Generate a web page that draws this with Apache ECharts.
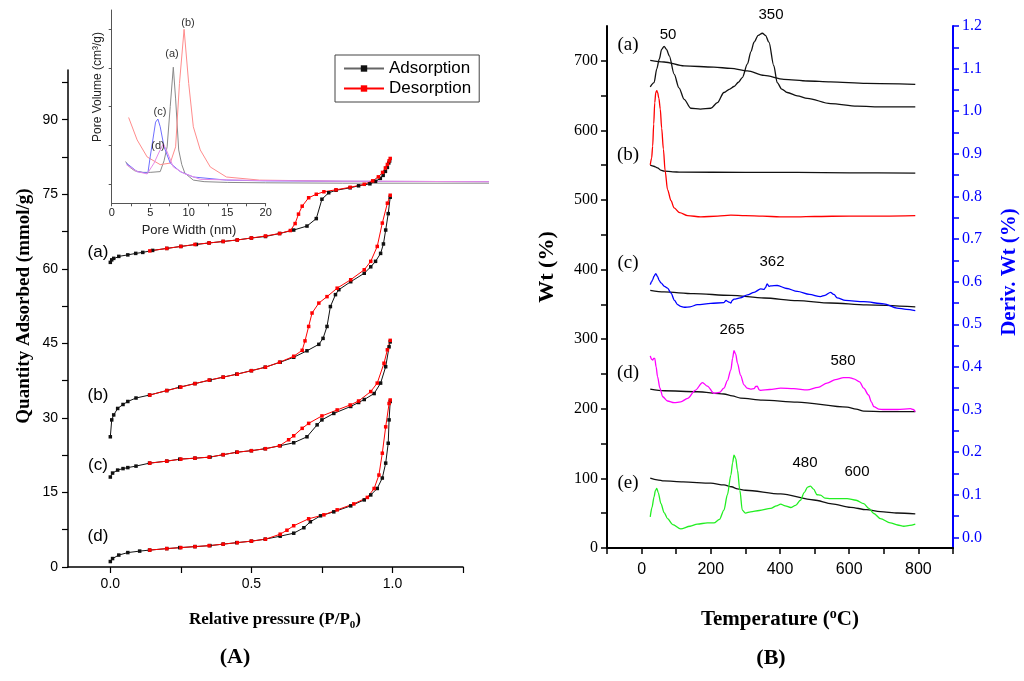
<!DOCTYPE html>
<html><head><meta charset="utf-8">
<script src="https://cdn.jsdelivr.net/npm/echarts@6/dist/echarts.min.js"></script>
<style>html,body{margin:0;padding:0;background:#fff}#c{width:1024px;height:681px}</style>
</head><body><div id="c"></div>
<script>
// ---------- Panel A: isotherms ----------
const pTickValues = [0, 0.25, 0.5, 0.75, 1.0, 1.25];
const pLabelValues = [0, 0.5, 1.0];
const qTickValues = [0,7.5,15,22.5,30,37.5,45,52.5,60,67.5,75,82.5,90,97.5];
const qLabelValues = [0,15,30,45,60,75,90];

const adsP_a = [0.0,0.005,0.012,0.03,0.062,0.09,0.115,0.15,0.2,0.25,0.305,0.35,0.4,0.45,0.5,0.55,0.6,0.65,0.697,0.73,0.75,0.774,0.8,0.85,0.88,0.92,0.94,0.957,0.967,0.975,0.982,0.987,0.99];
const adsQ_a = [61.3,61.8,62.1,62.5,62.8,63.1,63.3,63.7,64.1,64.5,64.9,65.2,65.5,65.8,66.2,66.5,67.1,67.8,68.6,70.1,74.0,75.3,75.8,76.3,76.7,77.1,77.6,78.2,78.8,79.6,80.4,81.3,81.7];
const desP_a = [0.14,0.2,0.25,0.3,0.35,0.4,0.45,0.5,0.55,0.6,0.638,0.655,0.667,0.68,0.703,0.73,0.757,0.8,0.85,0.9,0.93,0.95,0.965,0.975,0.982,0.988,0.992];
const desQ_a = [63.6,64.1,64.5,64.9,65.2,65.5,65.8,66.2,66.6,67.1,67.7,69.1,71.0,72.6,74.3,75.0,75.5,75.9,76.4,77.0,77.7,78.5,79.4,80.3,81.0,81.7,82.2];

const adsP_b = [0.0,0.005,0.012,0.026,0.045,0.062,0.091,0.139,0.2,0.246,0.3,0.353,0.4,0.448,0.5,0.549,0.602,0.65,0.697,0.739,0.754,0.768,0.78,0.798,0.81,0.852,0.9,0.923,0.94,0.958,0.968,0.976,0.985,0.992];
const adsQ_b = [26.2,29.6,30.6,31.9,32.7,33.3,34.0,34.6,35.5,36.2,36.9,37.6,38.2,38.8,39.5,40.2,41.2,42.2,43.5,44.8,46.0,48.4,52.4,54.8,55.8,57.4,59.1,60.4,61.5,63.1,65.0,67.8,71.1,74.4];
const desP_b = [0.14,0.2,0.25,0.3,0.35,0.4,0.45,0.5,0.55,0.6,0.65,0.68,0.69,0.703,0.715,0.739,0.768,0.804,0.852,0.9,0.923,0.946,0.964,0.982,0.992];
const desQ_b = [34.6,35.5,36.2,36.9,37.6,38.2,38.8,39.5,40.2,41.2,42.4,43.6,45.5,48.4,51.1,53.1,54.4,56.1,57.8,59.8,61.5,64.5,69.2,73.2,74.8];

const adsP_c = [0.0,0.008,0.026,0.045,0.062,0.091,0.139,0.2,0.246,0.3,0.353,0.4,0.448,0.5,0.549,0.602,0.65,0.697,0.733,0.75,0.792,0.852,0.88,0.9,0.935,0.958,0.976,0.988,0.992];
const adsQ_c = [18.1,18.9,19.5,19.8,20.0,20.3,20.9,21.3,21.7,21.9,22.1,22.6,23.1,23.4,23.8,24.4,25.0,26.2,28.6,29.6,30.9,32.3,33.1,33.7,34.9,37.0,40.3,44.3,45.3];
const desP_c = [0.14,0.2,0.25,0.3,0.35,0.4,0.45,0.5,0.55,0.6,0.632,0.65,0.68,0.703,0.75,0.804,0.85,0.88,0.923,0.946,0.97,0.982,0.992];
const desQ_c = [20.9,21.3,21.7,21.9,22.1,22.6,23.1,23.4,23.8,24.4,25.6,26.4,27.9,28.9,30.4,31.6,32.6,33.4,35.3,37.0,41.0,43.7,45.6];

const adsP_d = [0.0,0.008,0.03,0.062,0.104,0.139,0.2,0.246,0.3,0.353,0.4,0.448,0.5,0.549,0.602,0.65,0.686,0.709,0.745,0.792,0.852,0.9,0.923,0.946,0.964,0.976,0.985,0.988,0.992];
const adsQ_d = [1.1,1.7,2.4,2.9,3.2,3.4,3.7,3.9,4.1,4.3,4.6,4.9,5.2,5.6,6.2,6.8,7.9,9.1,10.3,11.1,12.3,13.5,14.5,15.8,17.9,20.9,24.9,29.6,33.3];
const desP_d = [0.14,0.2,0.25,0.3,0.35,0.4,0.45,0.5,0.55,0.602,0.626,0.65,0.703,0.757,0.804,0.863,0.911,0.935,0.952,0.964,0.976,0.988,0.992];
const desQ_d = [3.4,3.7,3.9,4.1,4.3,4.6,4.9,5.2,5.6,6.6,7.4,8.3,9.7,10.5,11.5,12.7,14.0,15.8,18.5,22.9,28.2,32.9,33.6];

// ---------- Inset: pore size distribution ----------
const wTickValues = [0,2.5,5,7.5,10,12.5,15,17.5,20];
const wLabelValues = [0,5,10,15,20];
const vTickValues = [0,0.5,1,1.5,2];
const psdW_a = [1.8,2.3,3,4,5,6.3,6.8,7.2,7.6,8.0,8.3,8.7,9.1,9.5,10.6,12,15,20,30,49];
const psdV_a = [0.29,0.22,0.17,0.15,0.15,0.16,0.3,0.48,1.0,1.51,1.1,0.44,0.25,0.14,0.05,0.03,0.02,0.015,0.01,0.01];
const psdW_b = [2.2,3.3,4.6,6.3,7.6,8.3,8.8,9.4,10.0,10.6,11.5,12.8,14.9,19.2,30,49];
const psdV_b = [0.86,0.57,0.35,0.25,0.27,0.48,1.3,2.0,1.3,0.74,0.44,0.22,0.09,0.05,0.035,0.03];
const psdW_c = [1.9,3.3,4.7,5.0,5.7,6.0,6.3,6.8,7.6,8.9,10.6,14.9,20,30,49];
const psdV_c = [0.27,0.16,0.14,0.35,0.80,0.84,0.74,0.48,0.27,0.16,0.09,0.05,0.04,0.035,0.03];
const psdW_d = [1.9,3.3,4.6,5.5,6.1,6.7,7.1,8.0,9.3,11.5,19,30,49];
const psdV_d = [0.25,0.16,0.13,0.27,0.40,0.52,0.44,0.22,0.14,0.06,0.045,0.035,0.03];

// ---------- Panel B: TGA / DTG ----------
const tTickValues = [-100,0,100,200,300,400,500,600,700,800,900];
const tLabelValues = [0,200,400,600,800];
const wtTickValues = [0,50,100,150,200,250,300,350,400,450,500,550,600,650,700];
const wtLabelValues = [0,100,200,300,400,500,600,700];
const dTickValues = [0,0.05,0.1,0.15,0.2,0.25,0.3,0.35,0.4,0.45,0.5,0.55,0.6,0.65,0.7,0.75,0.8,0.85,0.9,0.95,1.0,1.05,1.1,1.15,1.2];
const dLabelValues = [0,0.1,0.2,0.3,0.4,0.5,0.6,0.7,0.8,0.9,1.0,1.1,1.2];

const wtT_a = [25,65,123,209,258,306,354,411,480,546,650,791];
const wtV_a = [700.7,698.3,692.6,691,689,685.4,679,673.4,671,669.6,667.5,666.2];
const dtgT_a = [25,36,44,51,58,65,72,80,94,108,123,142,170,200,219,238,255,267,280,291,306,316,325,337,349,358,368,382,392,405,421,450,479,546,623,700,791];
const dtgV_a = [1.057,1.067,1.10,1.122,1.145,1.152,1.145,1.130,1.087,1.055,1.028,1.007,1.005,1.007,1.020,1.044,1.052,1.058,1.068,1.079,1.111,1.14,1.162,1.178,1.183,1.178,1.162,1.107,1.067,1.052,1.044,1.036,1.030,1.018,1.012,1.010,1.01];

const wtT_b = [25,35,46,55,65,90,113,300,450,600,791];
const wtV_b = [550,548.5,546.3,543,541.5,540.5,540,539.8,539.6,539,538.6];
const dtgT_b = [25,29,32,35,38,41,44,46,50,54,58,63,68,75,85,94,110,133,171,220,258,300,350,400,450,500,600,700,791];
const dtgV_b = [0.874,0.89,0.918,0.97,1.02,1.044,1.048,1.045,1.03,1.005,0.96,0.911,0.86,0.816,0.79,0.773,0.762,0.755,0.752,0.754,0.756,0.755,0.754,0.752,0.752,0.753,0.754,0.754,0.755];

const wtT_c = [25,65,150,258,354,450,546,650,791];
const wtV_c = [370.2,367.9,365.5,363,359.2,355.4,352,349.3,346.3];
const dtgT_c = [25,29,32,36,41,46,51,56,66,75,85,95,104,113,123,140,161,200,238,244,248,253,258,262,267,285,306,325,344,354,358,363,368,373,392,420,450,485,517,530,546,556,565,589,642,700,738,765,791];
const dtgV_c = [0.593,0.6,0.605,0.613,0.619,0.612,0.603,0.597,0.589,0.585,0.573,0.556,0.546,0.542,0.540,0.541,0.546,0.549,0.551,0.556,0.554,0.552,0.550,0.556,0.559,0.562,0.569,0.575,0.583,0.582,0.586,0.595,0.589,0.590,0.591,0.584,0.577,0.570,0.565,0.568,0.575,0.570,0.562,0.556,0.553,0.548,0.538,0.535,0.532];

const wtT_d = [25,65,161,238,262,286,350,450,594,620,642,700,791];
const wtV_d = [228.3,225.9,224.5,221.3,218.5,215.4,212.5,209.6,202.4,199.5,196.6,196,196];
const dtgT_d = [25,29,32,35,38,42,46,53,61,75,94,113,133,155,176,190,209,225,238,248,258,263,267,272,277,286,296,305,315,325,330,334,340,344,370,402,440,479,510,536,560,584,600,613,630,642,656,664,671,685,700,740,777,785,791];
const dtgV_d = [0.426,0.418,0.416,0.42,0.42,0.40,0.377,0.35,0.330,0.320,0.316,0.318,0.326,0.345,0.363,0.355,0.338,0.340,0.350,0.368,0.393,0.42,0.438,0.43,0.409,0.38,0.358,0.350,0.348,0.349,0.354,0.355,0.346,0.345,0.347,0.350,0.349,0.346,0.352,0.362,0.370,0.375,0.375,0.372,0.365,0.35,0.334,0.318,0.307,0.301,0.300,0.300,0.302,0.300,0.295];

const wtT_e = [25,45,65,120,200,238,260,277,300,402,498,550,604,650,690,740,791];
const wtV_e = [100.3,98,96.4,95,93.1,90.6,88,84.9,83,77.7,69,63.5,58.5,55,52.3,50.3,48.9];
const dtgT_e = [25,30,36,40,44,48,56,65,75,90,113,140,161,190,209,225,238,248,258,263,267,272,277,284,291,300,315,340,373,390,402,415,431,445,459,470,480,488,497,507,517,530,546,594,620,642,657,671,690,719,740,758,775,791];
const dtgV_e = [0.048,0.07,0.095,0.11,0.115,0.105,0.079,0.058,0.044,0.03,0.020,0.026,0.031,0.034,0.034,0.042,0.064,0.10,0.146,0.175,0.193,0.185,0.158,0.11,0.064,0.057,0.060,0.063,0.068,0.074,0.078,0.074,0.070,0.075,0.087,0.105,0.118,0.120,0.113,0.10,0.099,0.092,0.091,0.091,0.087,0.079,0.068,0.056,0.044,0.034,0.029,0.026,0.028,0.031];

// ---------- build ----------
const zip = (xs, ys) => xs.map((x, i) => [x, ys[i]]);
const SANS = 'Liberation Sans', SERIF = 'Liberation Serif';

// inset geometry: visible axis 0..20 nm, curves continue to 49 nm on a wider hidden grid with the same scale
const INSET_LEFT = 111.7, INSET_W20 = 154, INSET_TOP = 10, INSET_H = 193.3, PSD_MAX = 49;

function iso(name, xs, ys, color) {
  return { name, type: 'line', xAxisIndex: 0, yAxisIndex: 0, data: zip(xs, ys),
    symbol: 'rect', symbolSize: 3.5, showAllSymbol: true,
    itemStyle: { color }, lineStyle: { color, width: 1 }, z: 3 };
}
function psd(name, xs, ys, color) {
  return { name, type: 'line', xAxisIndex: 3, yAxisIndex: 4, data: zip(xs, ys),
    symbol: 'none', clip: false, lineStyle: { color, width: 1 }, z: 2 };
}
function tg(name, xs, ys, color, yi) {
  return { name, type: 'line', xAxisIndex: 2, yAxisIndex: yi, data: zip(xs, ys),
    symbol: 'none', smooth: 0.3, smoothMonotone: 'x', lineStyle: { color, width: 1.3 }, z: 2 };
}
function txt(text, x, y, size, opts) {
  opts = opts || {};
  return { type: 'text', x, y, rotation: opts.rot || 0, z: 10,
    style: { text, fontSize: size, fontFamily: opts.family || SANS, fontWeight: opts.bold ? 'bold' : 'normal',
      fill: opts.color || '#000', align: 'center', verticalAlign: 'middle',
      textAlign: 'center', textVerticalAlign: 'middle', rich: opts.rich } };
}

const chart = echarts.init(document.getElementById('c'), null, { renderer: 'canvas' });
const axisBlack = (w) => ({ show: true, onZero: false, lineStyle: { color: '#000', width: w } });
const hiddenAxis = { axisLine: { show: false }, axisTick: { show: false }, axisLabel: { show: false }, splitLine: { show: false } };

const option = {
  animation: false,
  backgroundColor: '#fff',
  grid: [
    { left: 68, top: 70, width: 395, height: 497 },
    { left: INSET_LEFT, top: INSET_TOP, width: INSET_W20, height: INSET_H },
    { left: 607, top: 26, width: 346, height: 522 },
    { left: INSET_LEFT, top: INSET_TOP, width: INSET_W20 * PSD_MAX / 20, height: INSET_H }
  ],
  legend: {
    data: [{ name: 'Adsorption', lineStyle: { color: '#666' } }, 'Desorption'], left: 335, top: 55, orient: 'vertical',
    itemWidth: 40, itemHeight: 8, itemGap: 3, padding: [5, 8, 5, 8],
    borderColor: '#444', borderWidth: 1, selectedMode: false,
    textStyle: { fontFamily: SANS, fontSize: 17, color: '#000' }
  },
  xAxis: [
    { gridIndex: 0, type: 'value', min: -0.15, max: 1.25, axisLine: axisBlack(1.5),
      axisTick: { show: true, customValues: pTickValues, length: 6, lineStyle: { color: '#000', width: 1.2 } },
      axisLabel: { customValues: pLabelValues, formatter: v => v.toFixed(1), fontFamily: SANS, fontSize: 14, color: '#000', margin: 10 },
      splitLine: { show: false } },
    { gridIndex: 1, type: 'value', min: 0, max: 20, axisLine: { show: true, onZero: false, lineStyle: { color: '#555', width: 1 } },
      axisTick: { show: true, customValues: wTickValues, length: 3, lineStyle: { color: '#555' } },
      axisLabel: { customValues: wLabelValues, fontFamily: SANS, fontSize: 11, color: '#222', margin: 4 },
      splitLine: { show: false } },
    { gridIndex: 2, type: 'value', min: -100, max: 900, axisLine: axisBlack(2),
      axisTick: { show: true, customValues: tTickValues, length: 6, lineStyle: { color: '#000', width: 1.5 } },
      axisLabel: { customValues: tLabelValues, fontFamily: SANS, fontSize: 16, color: '#000', margin: 14 },
      splitLine: { show: false } },
    Object.assign({ gridIndex: 3, type: 'value', min: 0, max: PSD_MAX }, hiddenAxis)
  ],
  yAxis: [
    { gridIndex: 0, type: 'value', min: 0, max: 100, axisLine: axisBlack(1.5),
      axisTick: { show: true, customValues: qTickValues, length: 6, lineStyle: { color: '#000', width: 1.2 } },
      axisLabel: { customValues: qLabelValues, fontFamily: SANS, fontSize: 14, color: '#000', margin: 10 },
      splitLine: { show: false } },
    { gridIndex: 1, type: 'value', min: -0.25, max: 2.25, axisLine: { show: true, onZero: false, lineStyle: { color: '#555', width: 1 } },
      axisTick: { show: true, customValues: vTickValues, length: 3, lineStyle: { color: '#555' } },
      axisLabel: { show: false }, splitLine: { show: false } },
    { gridIndex: 2, type: 'value', min: 0, max: 750, axisLine: axisBlack(2),
      axisTick: { show: true, customValues: wtTickValues, length: 6, lineStyle: { color: '#000', width: 1.5 } },
      axisLabel: { customValues: wtLabelValues, fontFamily: SERIF, fontSize: 16, color: '#000', margin: 9 },
      splitLine: { show: false } },
    { gridIndex: 2, type: 'value', position: 'right', min: -0.025, max: 1.2,
      axisLine: { show: true, onZero: false, lineStyle: { color: '#0000ff', width: 2 } },
      axisTick: { show: true, customValues: dTickValues, length: 6, lineStyle: { color: '#0000ff', width: 1.5 } },
      axisLabel: { customValues: dLabelValues, formatter: v => v.toFixed(1), fontFamily: SERIF, fontSize: 16, color: '#0000ff', margin: 9 },
      splitLine: { show: false } },
    Object.assign({ gridIndex: 3, type: 'value', min: -0.25, max: 2.25 }, hiddenAxis)
  ],
  series: [
    psd('PSD (a)', psdW_a, psdV_a, '#8a8a8a'),
    psd('PSD (b)', psdW_b, psdV_b, '#ff8c8c'),
    psd('PSD (c)', psdW_c, psdV_c, '#6f6fff'),
    psd('PSD (d)', psdW_d, psdV_d, '#e68ae6'),
    iso('Adsorption', adsP_a, adsQ_a, '#111'),
    iso('Desorption', desP_a, desQ_a, '#ff0000'),
    iso('Adsorption', adsP_b, adsQ_b, '#111'),
    iso('Desorption', desP_b, desQ_b, '#ff0000'),
    iso('Adsorption', adsP_c, adsQ_c, '#111'),
    iso('Desorption', desP_c, desQ_c, '#ff0000'),
    iso('Adsorption', adsP_d, adsQ_d, '#111'),
    iso('Desorption', desP_d, desQ_d, '#ff0000'),
    tg('Wt (a)', wtT_a, wtV_a, '#111', 2),
    tg('Wt (b)', wtT_b, wtV_b, '#111', 2),
    tg('Wt (c)', wtT_c, wtV_c, '#111', 2),
    tg('Wt (d)', wtT_d, wtV_d, '#111', 2),
    tg('Wt (e)', wtT_e, wtV_e, '#111', 2),
    tg('DTG (a)', dtgT_a, dtgV_a, '#111', 3),
    tg('DTG (b)', dtgT_b, dtgV_b, '#ff0000', 3),
    tg('DTG (c)', dtgT_c, dtgV_c, '#0000ff', 3),
    tg('DTG (d)', dtgT_d, dtgV_d, '#ff00ff', 3),
    tg('DTG (e)', dtgT_e, dtgV_e, '#22ee22', 3)
  ],
  graphic: [
    txt('Pore Volume (cm³/g)', 98, 87, 12, { rot: Math.PI / 2, color: '#222' }),
    txt('Pore Width (nm)', 189, 230, 13, { color: '#222' }),
    txt('(a)', 172, 54, 11, { color: '#333' }),
    txt('(b)', 188, 23, 11, { color: '#333' }),
    txt('(c)', 160, 112, 11, { color: '#333' }),
    txt('(d)', 158, 146, 11, { color: '#333' }),
    txt('(a)', 98, 252, 17),
    txt('(b)', 98, 395, 17),
    txt('(c)', 98, 465, 17),
    txt('(d)', 98, 536, 17),
    txt('Quantity Adsorbed (mmol/g)', 24, 306, 19, { rot: Math.PI / 2, family: SERIF, bold: true }),
    txt('{a|Relative pressure (P/P}{s|0}{a|)}', 275, 620, 17, { family: SERIF, bold: true,
      rich: { a: { fontFamily: SERIF, fontWeight: 'bold', fontSize: 17, lineHeight: 22, fill: '#000', color: '#000' },
              s: { fontFamily: SERIF, fontWeight: 'bold', fontSize: 11, lineHeight: 11, verticalAlign: 'bottom', fill: '#000', color: '#000' } } }),
    txt('(A)', 235, 657, 22, { family: SERIF, bold: true }),
    txt('(a)', 628, 45, 19, { family: SERIF }),
    txt('(b)', 628, 155, 19, { family: SERIF }),
    txt('(c)', 628, 263, 19, { family: SERIF }),
    txt('(d)', 628, 373, 19, { family: SERIF }),
    txt('(e)', 628, 483, 19, { family: SERIF }),
    txt('50', 668, 35, 15),
    txt('350', 771, 15, 15),
    txt('362', 772, 262, 15),
    txt('265', 732, 330, 15),
    txt('580', 843, 361, 15),
    txt('480', 805, 463, 15),
    txt('600', 857, 472, 15),
    txt('Wt (%)', 547, 267, 22, { rot: Math.PI / 2, family: SERIF, bold: true }),
    txt('Deriv. Wt (%)', 1010, 272, 21, { rot: Math.PI / 2, family: SERIF, bold: true, color: '#0000ff' }),
    txt('{a|Temperature (}{s|o}{a|C)}', 780, 620, 21, { family: SERIF, bold: true,
      rich: { a: { fontFamily: SERIF, fontWeight: 'bold', fontSize: 21, lineHeight: 26, fill: '#000', color: '#000' },
              s: { fontFamily: SERIF, fontWeight: 'bold', fontSize: 14, lineHeight: 14, verticalAlign: 'top', fill: '#000', color: '#000' } } }),
    txt('(B)', 771, 658, 22, { family: SERIF, bold: true })
  ]
};
chart.setOption(option);
</script></body></html>
